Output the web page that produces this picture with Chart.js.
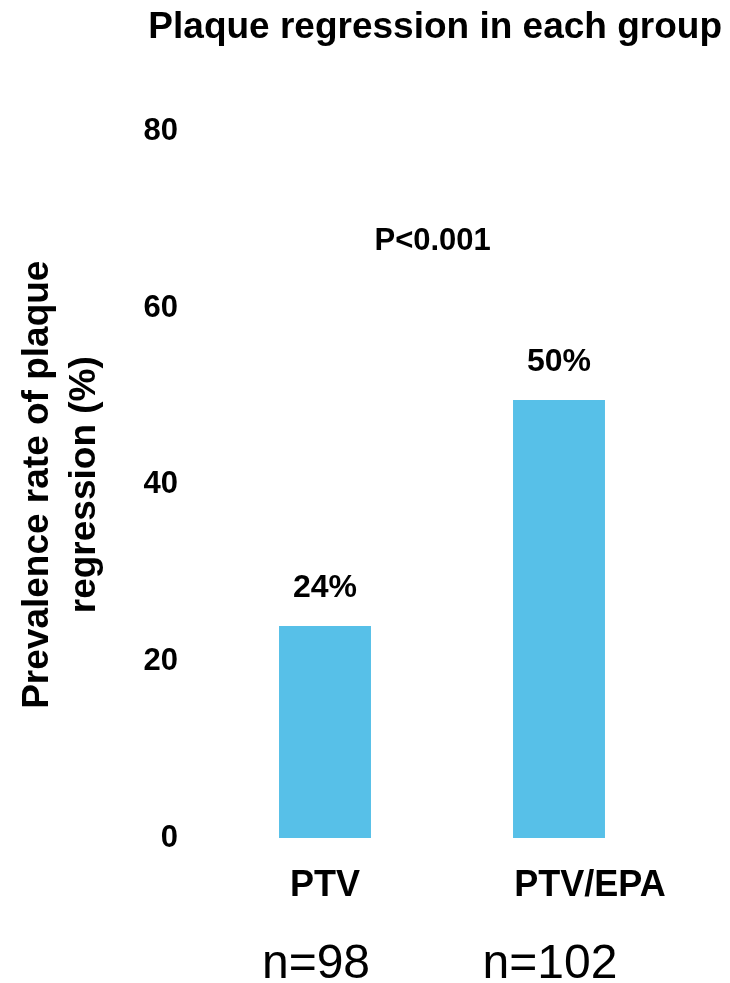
<!DOCTYPE html>
<html>
<head>
<meta charset="utf-8">
<script src="https://cdn.jsdelivr.net/npm/chart.js@4/dist/chart.umd.min.js"></script>
<style>
  html, body { margin: 0; padding: 0; background: #ffffff; }
  #wrap { width: 730px; height: 983px; }
</style>
</head>
<body>
<div id="wrap"><canvas id="c" width="730" height="983"></canvas></div>
<script>
const categories = ['PTV', 'PTV/EPA'];
const sampleSizes = ['n=98', 'n=102'];
const regressionRates = [24, 49.6];
const valueLabels = ['24%', '50%'];
const yTicks = [0, 20, 40, 60, 80];
const pAnnotation = { text: 'P<0.001', x: 0.46, y: 67.5 };

const FONT = "'Liberation Sans', Arial, Helvetica, sans-serif";
// horizontal nudge of each category label relative to its bar centre
const categoryLabelShift = [0, 31];

const labelPlugin = {
  id: 'labels',
  afterDatasetsDraw(chart) {
    const ctx = chart.ctx;
    const meta = chart.getDatasetMeta(0);
    const xs = chart.scales.x, ys = chart.scales.y;
    ctx.save();
    ctx.fillStyle = '#000';
    ctx.textAlign = 'center';
    ctx.textBaseline = 'middle';
    ctx.font = 'bold 32px ' + FONT;
    meta.data.forEach((bar, i) => {
      ctx.fillText(valueLabels[i], bar.x, bar.y - 38);
    });
    ctx.font = 'bold 31px ' + FONT;
    ctx.fillText(pAnnotation.text, xs.getPixelForValue(pAnnotation.x), ys.getPixelForValue(pAnnotation.y));
    ctx.font = 'bold 36px ' + FONT;
    categories.forEach((c, i) => {
      ctx.fillText(c, xs.getPixelForTick(i) + categoryLabelShift[i], xs.top + 48);
    });
    ctx.restore();
  }
};

new Chart(document.getElementById('c'), {
  type: 'bar',
  data: {
    labels: categories,
    datasets: [{
      data: regressionRates,
      backgroundColor: '#57C0E8',
      borderWidth: 0,
      categoryPercentage: 1,
      barPercentage: 0.393
    }]
  },
  options: {
    responsive: false,
    animation: false,
    layout: { padding: { left: 14, right: 8, top: 0, bottom: 0 } },
    plugins: {
      legend: { display: false },
      tooltip: { enabled: false },
      title: {
        display: true,
        text: 'Plaque regression in each group',
        align: 'end',
        color: '#000',
        font: { family: FONT, size: 37, weight: 'bold' },
        padding: { top: 6, bottom: 81 }
      }
    },
    scales: {
      y: {
        min: 0, max: 80,
        afterBuildTicks(scale) { scale.ticks = yTicks.map(v => ({ value: v })); },
        grid: { display: false },
        border: { display: false },
        ticks: { color: '#000', font: { family: FONT, size: 31, weight: 'bold' }, padding: 22 },
        title: {
          display: true,
          text: ['Prevalence rate of plaque', 'regression (%)'],
          color: '#000',
          font: { family: FONT, size: 37, weight: 'bold', lineHeight: 1.27 },
          padding: 0
        },
        afterFit(scale) { scale.width = 194; }
      },
      y2: {
        position: 'right',
        display: true,
        grid: { display: false },
        border: { display: false },
        ticks: { display: false },
        afterFit(scale) { scale.width = 46; }
      },
      x: {
        grid: { display: false },
        border: { display: false },
        ticks: { display: false },
        afterFit(scale) { scale.height = 80; }
      },
      x2: {
        type: 'category',
        labels: sampleSizes,
        position: 'bottom',
        offset: true,
        grid: { display: false },
        border: { display: false },
        ticks: { color: '#000', font: { family: FONT, size: 48, weight: 'normal' }, padding: 10, labelOffset: -9 },
        afterFit(scale) { scale.height = 65; }
      }
    }
  },
  plugins: [labelPlugin]
});
</script>
</body>
</html>
